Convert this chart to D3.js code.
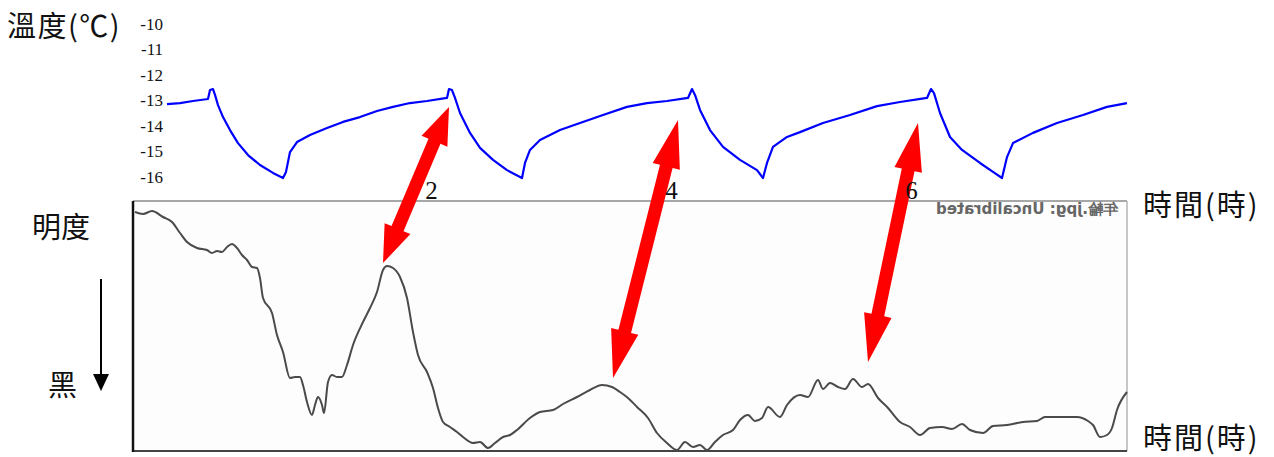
<!DOCTYPE html>
<html>
<head>
<meta charset="utf-8">
<script src="https://cdn.jsdelivr.net/npm/d3@7"></script>
<style>
  body { margin: 0; background: #fff; }
  .cjk { font-family: "Noto Sans CJK TC", "Noto Sans CJK SC", sans-serif; fill: #111; }
</style>
</head>
<body>
<div id="chart"></div>
<script>
// time in minutes, temperature in deg C
var tempTime = [-12, -5.5, 1, 8.5, 9.5, 11, 12, 13.5, 16, 19.5, 23.5, 28.5, 34.5, 41, 46, 47.5, 49.5, 53, 59.5, 68, 76, 84.5, 93, 101, 109.5, 118, 128, 129, 130.5, 132, 134.5, 139.5, 144.5, 151, 158, 165.5, 167, 169.5, 174.5, 184.5, 194.5, 206, 218, 228, 238, 248.5, 250.5, 252, 254.5, 259.5, 266, 274.5, 283, 286, 288, 291, 298, 304.5, 316, 329.5, 343, 354.5, 368, 370, 371.5, 374.5, 379.5, 385.5, 394.5, 401, 405.5, 408, 411, 421, 433, 446, 458, 468];
var tempValue = [-13.14, -13.10, -13.02, -12.94, -12.59, -12.55, -12.78, -13.18, -13.65, -14.16, -14.67, -15.14, -15.53, -15.84, -16.04, -15.80, -15.02, -14.63, -14.35, -14.08, -13.84, -13.65, -13.41, -13.25, -13.10, -13.02, -12.90, -12.55, -12.59, -12.90, -13.49, -14.27, -14.86, -15.33, -15.73, -16.04, -15.45, -14.94, -14.55, -14.16, -13.88, -13.57, -13.25, -13.10, -13.02, -12.90, -12.55, -12.78, -13.37, -14.16, -14.82, -15.33, -15.73, -16.04, -15.45, -14.82, -14.43, -14.24, -13.88, -13.57, -13.22, -13.06, -12.90, -12.55, -12.71, -13.49, -14.43, -14.94, -15.45, -15.80, -16.04, -15.22, -14.67, -14.27, -13.88, -13.57, -13.25, -13.10];

// brightness (0 = black, 100 = white) over the same time axis
var brightTime = [-28, -24, -19.5, -14, -9.5, -5.5, -2, 3, 8, 10.5, 13, 15.5, 18, 20.5, 23, 25.5, 28, 30.5, 33, 34.5, 36, 40.5, 43, 46, 49.5, 52, 54.5, 56, 58, 60.5, 62, 63.5, 65.5, 66.5, 68.5, 70.5, 73, 75.5, 78, 81, 86, 89.5, 93, 96, 98, 101, 104.5, 108, 111, 113.5, 118, 121, 123.5, 126, 129.5, 133, 136, 141, 144.5, 148.5, 152, 156, 159.5, 163, 169.5, 174.5, 181, 186, 193, 199.5, 205.5, 210.5, 214.5, 218.5, 223, 228.5, 233, 238, 243, 247, 251, 254.5, 258, 262, 266, 271, 274.5, 278.5, 282, 285.5, 288.5, 294.5, 298, 304.5, 308.5, 313.5, 316, 319.5, 323.5, 327, 331, 335.5, 338.5, 343.5, 348.5, 354.5, 359.5, 364.5, 369.5, 375.5, 380.5, 385.5, 389.5, 396, 401, 408, 416, 423, 427, 434.5, 443, 448.5, 451, 454.5, 458, 460.5, 463, 468];
var brightValue = [95.6, 94.8, 96.0, 93.6, 91.6, 87.2, 83.6, 81.2, 80.4, 79.2, 80.0, 79.6, 81.6, 82.8, 81.2, 78.4, 76.4, 73.6, 73.2, 69.2, 61.2, 55.2, 46.4, 39.6, 29.2, 29.6, 29.6, 26.4, 19.6, 14.4, 18.4, 21.6, 18.4, 15.2, 27.6, 30.4, 29.6, 29.6, 34.4, 42.4, 51.6, 57.2, 63.6, 72.4, 74.0, 73.2, 69.6, 61.2, 47.6, 38.4, 31.6, 25.2, 17.2, 11.6, 9.6, 7.6, 5.6, 3.2, 3.6, 1.2, 3.2, 5.6, 6.4, 8.4, 13.2, 15.6, 16.4, 18.8, 21.6, 24.4, 26.4, 25.6, 23.6, 21.2, 17.6, 13.2, 7.2, 3.2, 0.4, 3.6, 1.6, 2.4, 0.4, 3.6, 6.4, 8.4, 12.4, 14.4, 12.0, 13.2, 17.6, 13.6, 18.4, 22.4, 21.6, 28.4, 24.8, 27.2, 25.6, 24.8, 28.8, 25.6, 26.8, 21.2, 17.2, 11.6, 9.6, 6.4, 9.2, 9.6, 8.8, 10.8, 8.4, 7.2, 10.0, 10.4, 11.6, 12.0, 13.6, 13.6, 13.6, 12.0, 10.4, 5.6, 6.4, 9.2, 16.4, 23.6];

var tempTicks = [-10, -11, -12, -13, -14, -15, -16];
var hourTicks = [2, 4, 6];
var boxTime = [-29, 468];

// arrows: from a temperature peak (top) to a brightness peak (bottom)
var arrowTopTime = [129, 243.5, 363.5];
var arrowTopTemp = [-13.25, -13.76, -13.88];
var arrowBottomTime = [96, 211, 338.5];
var arrowBottomBright = [75.2, 29.2, 35.6];

var width = 1274, height = 457;

var svg = d3.select("#chart").append("svg")
    .attr("width", width)
    .attr("height", height);

var x = d3.scaleLinear().domain([0, 480]).range([191, 1151]);
var yT = d3.scaleLinear().domain([-10, -16]).range([24, 177]);
var yB = d3.scaleLinear().domain([0, 100]).range([451, 201]);

// brightness box
var bx0 = x(boxTime[0]), bx1 = x(boxTime[1]);
svg.append("rect")
    .attr("x", bx0).attr("y", yB(100))
    .attr("width", bx1 - bx0).attr("height", yB(0) - yB(100))
    .attr("fill", "#fdfdfd");

svg.append("line")
    .attr("x1", bx0).attr("x2", bx1).attr("y1", yB(100)).attr("y2", yB(100))
    .attr("stroke", "#8a8a8a").attr("stroke-width", 1.5);
svg.append("line")
    .attr("x1", bx1).attr("x2", bx1).attr("y1", yB(100)).attr("y2", yB(0))
    .attr("stroke", "#b5b5b5").attr("stroke-width", 1.5);
svg.append("line")
    .attr("x1", bx0).attr("x2", bx1).attr("y1", yB(0)).attr("y2", yB(0))
    .attr("stroke", "#444").attr("stroke-width", 2);
svg.append("line")
    .attr("x1", bx0).attr("x2", bx0).attr("y1", yB(100)).attr("y2", yB(0) + 1)
    .attr("stroke", "#111").attr("stroke-width", 2.5);

// mirrored caption inside the box
svg.append("text")
    .attr("transform", "translate(" + (bx1 - 9) + "," + (yB(100) + 13) + ") scale(-1,1)")
    .attr("font-family", "DejaVu Sans, sans-serif")
    .attr("font-size", 15)
    .attr("font-weight", "bold")
    .attr("fill", "#666")
    .text("年輪.jpg: Uncalibrated");

// temperature axis labels (no axis line)
var tAxis = svg.append("g")
    .attr("transform", "translate(163,0)")
    .call(d3.axisLeft(yT).tickValues(tempTicks).tickSize(0).tickPadding(0)
        .tickFormat(function(d) { return String(d); }));
tAxis.select(".domain").remove();
tAxis.selectAll("text")
    .attr("font-family", "Liberation Serif, serif")
    .attr("font-size", 17)
    .attr("fill", "#111");

// brightness line
var brightData = brightTime.map(function(t, i) { return {t: t, v: brightValue[i]}; });
svg.append("path")
    .datum(brightData)
    .attr("fill", "none")
    .attr("stroke", "#4a4a4a")
    .attr("stroke-width", 2)
    .attr("stroke-linejoin", "round")
    .attr("d", d3.line()
        .curve(d3.curveMonotoneX)
        .x(function(d) { return x(d.t); })
        .y(function(d) { return yB(d.v); }));

// temperature line
var tempData = tempTime.map(function(t, i) { return {t: t, v: tempValue[i]}; });
svg.append("path")
    .datum(tempData)
    .attr("fill", "none")
    .attr("stroke", "#0000ff")
    .attr("stroke-width", 2.2)
    .attr("stroke-linejoin", "round")
    .attr("d", d3.line()
        .x(function(d) { return x(d.t); })
        .y(function(d) { return yT(d.v); }));

// red double arrows
function doubleArrow(x1, y1, x2, y2) {
    var dx = x2 - x1, dy = y2 - y1, len = Math.sqrt(dx * dx + dy * dy);
    var ux = dx / len, uy = dy / len, px = -uy, py = ux;
    var head = Math.min(48, len * 0.22), hw = 14, sw = 6.5;
    function pt(a, b) { return [x1 + ux * a + px * b, y1 + uy * a + py * b]; }
    return [
        pt(0, 0), pt(head, hw), pt(head, sw), pt(len - head, sw), pt(len - head, hw),
        pt(len, 0), pt(len - head, -hw), pt(len - head, -sw), pt(head, -sw), pt(head, -hw)
    ];
}
arrowTopTime.forEach(function(t, i) {
    var p = doubleArrow(x(t), yT(arrowTopTemp[i]), x(arrowBottomTime[i]), yB(arrowBottomBright[i]));
    svg.append("polygon")
        .attr("points", p.map(function(q) { return q.join(","); }).join(" "))
        .attr("fill", "#ff0000");
});

// hour labels along the top of the box (drawn over the arrows)
var hAxis = svg.append("g")
    .attr("transform", "translate(0," + (yB(100) - 2) + ")")
    .call(d3.axisTop(x).tickValues(hourTicks.map(function(h) { return h * 60; }))
        .tickSize(0).tickPadding(0)
        .tickFormat(function(d) { return String(d / 60); }));
hAxis.select(".domain").remove();
hAxis.selectAll("text")
    .attr("font-family", "Liberation Serif, serif")
    .attr("font-size", 25)
    .attr("fill", "#111")
    .attr("dy", 0);

// black down arrow next to the brightness label
svg.append("line")
    .attr("x1", 101).attr("x2", 101).attr("y1", 279).attr("y2", 376)
    .attr("stroke", "#000").attr("stroke-width", 2);
svg.append("path")
    .attr("d", "M93,374 L109,374 L101,391 Z")
    .attr("fill", "#000");

// text labels
svg.append("text").attr("class", "cjk").attr("x", 7).attr("y", 37)
    .attr("font-size", 29).attr("letter-spacing", 1.5).text("溫度(℃)");
svg.append("text").attr("class", "cjk").attr("x", 32).attr("y", 238)
    .attr("font-size", 29).text("明度");
svg.append("text").attr("class", "cjk").attr("x", 48).attr("y", 396)
    .attr("font-size", 29).text("黑");
svg.append("text").attr("class", "cjk").attr("x", 1143).attr("y", 216)
    .attr("font-size", 29).attr("letter-spacing", 2).text("時間(時)");
svg.append("text").attr("class", "cjk").attr("x", 1143).attr("y", 449)
    .attr("font-size", 29).attr("letter-spacing", 2).text("時間(時)");
</script>
</body>
</html>
